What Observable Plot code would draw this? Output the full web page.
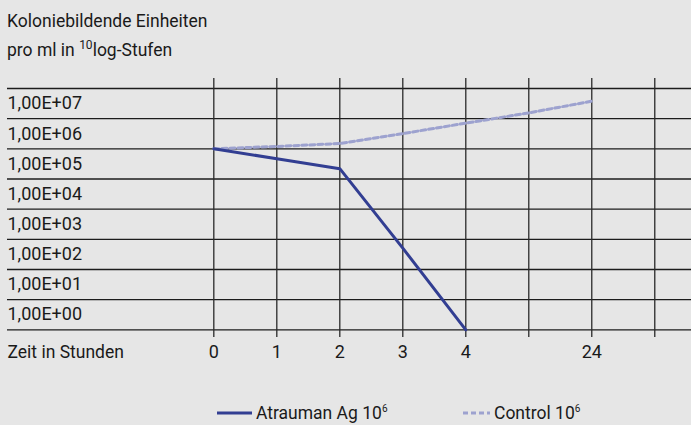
<!DOCTYPE html>
<html>
<head>
<meta charset="utf-8">
<script src="https://cdn.jsdelivr.net/npm/d3@7"></script>
<script src="https://cdn.jsdelivr.net/npm/@observablehq/plot@0.6"></script>
<style>
  html, body { margin: 0; padding: 0; background: #e6e6e6; }
  body { width: 691px; height: 425px; position: relative; overflow: hidden;
         font-family: "Roboto", "DejaVu Sans Condensed", sans-serif; color: #1a1a1a; }
  #title { position: absolute; left: 7px; top: 7px; font-size: 17.5px; line-height: 29px; }
  #title sup { font-size: 12px; vertical-align: 7px; line-height: 0; }
  #chart { position: absolute; left: 0; top: 70px; }
  #legend { position: absolute; left: 0; top: 400px; width: 691px; height: 25px; font-size: 17.5px; }
  .item { position: absolute; top: 0; display: flex; align-items: center; height: 26px; }
  .item sup { font-size: 10px; vertical-align: 7px; line-height: 0; }
  .sw { display: inline-block; margin-right: 4px; }
</style>
</head>
<body>
<div id="title">Koloniebildende Einheiten<br>pro ml in <sup>10</sup>log-Stufen</div>
<div id="chart"></div>
<div id="legend"></div>
<script>
// Data
const hourLabels = ["0", "1", "2", "3", "4", "", "24", ""];
const atraumanHours = ["0", "1", "2", "3", "4"];
const atraumanCfu = [1e6, 4.7e5, 2.2e5, 5.1e2, 1];
const controlHours = ["0", "1", "2", "3", "4", "", "24"];
const controlCfu = [1e6, 1.2e6, 1.5e6, 3.2e6, 7.1e6, 1.55e7, 3.8e7];
const yTicks = [1e0, 1e1, 1e2, 1e3, 1e4, 1e5, 1e6, 1e7];
const yGrid = [1e0, 1e1, 1e2, 1e3, 1e4, 1e5, 1e6, 1e7, 1e8];
const yTickLabels = ["1,00E+00", "1,00E+01", "1,00E+02", "1,00E+03", "1,00E+04", "1,00E+05", "1,00E+06", "1,00E+07"];
const seriesNames = ["Atrauman Ag 10", "Control 10"];
const seriesColors = ["#323e92", "#9da2cf"];

const atraumanData = atraumanHours.map((h, i) => ({i, v: atraumanCfu[i]}));
const controlData = controlHours.map((h, i) => ({i, v: controlCfu[i]}));
const cols = hourLabels.map((t, i) => ({i, t}));

const font = '"Roboto", "DejaVu Sans Condensed", sans-serif';

const chart = Plot.plot({
  width: 691,
  height: 300,
  marginLeft: 7,
  marginRight: 0,
  marginTop: 18,
  marginBottom: 40.7,
  style: {background: "transparent", fontFamily: font, overflow: "visible"},
  x: {type: "linear", domain: [-3.275, 7.583], axis: null},
  y: {type: "log", domain: [1, 1e8], axis: null},
  marks: [
    Plot.ruleY(yGrid, {stroke: "#1c1c1c", strokeWidth: 1.3}),
    Plot.ruleX(cols, {x: "i", y1: Math.pow(10, -0.255), y2: Math.pow(10, 8.33), stroke: "#2a2a2a", strokeWidth: 1.3}),
    Plot.text(yTicks, {y: d => d * Math.sqrt(10), text: (d, i) => yTickLabels[i], frameAnchor: "left", textAnchor: "start", fontSize: 18, fill: "#1a1a1a"}),
    Plot.text(cols, {x: "i", y: Math.pow(10, -0.75), text: "t", fontSize: 18, fill: "#1a1a1a"}),
    Plot.text(["Zeit in Stunden"], {y: Math.pow(10, -0.75), text: d => d, frameAnchor: "left", textAnchor: "start", fontSize: 17.5, fill: "#1a1a1a"}),
    Plot.line(controlData, {x: "i", y: "v", stroke: seriesColors[1], strokeWidth: 3, strokeDasharray: "5,3"}),
    Plot.line(atraumanData, {x: "i", y: "v", stroke: seriesColors[0], strokeWidth: 3})
  ]
});
document.getElementById("chart").appendChild(chart);

// Legend
const legend = document.getElementById("legend");
const items = [
  {left: 217, w: 35, dash: null},
  {left: 463, w: 27, dash: "5,3"}
];
items.forEach((it, k) => {
  const div = document.createElement("div");
  div.className = "item";
  div.style.left = it.left + "px";
  div.innerHTML = `<svg class="sw" width="${it.w}" height="6"><line x1="0" y1="3" x2="${it.w}" y2="3" stroke="${seriesColors[k]}" stroke-width="3" ${it.dash ? `stroke-dasharray="${it.dash}"` : ""}/></svg><span>${seriesNames[k]}<sup>6</sup></span>`;
  legend.appendChild(div);
});
</script>
</body>
</html>
